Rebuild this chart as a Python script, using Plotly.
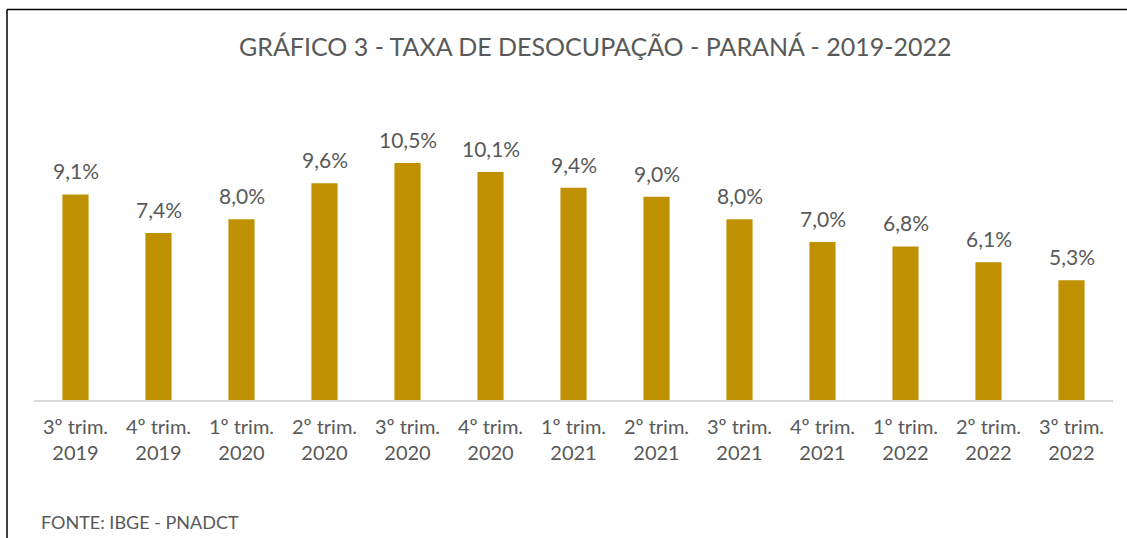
import plotly.graph_objects as go

categories = ["3º trim.<br>2019", "4º trim.<br>2019", "1º trim.<br>2020", "2º trim.<br>2020",
              "3º trim.<br>2020", "4º trim.<br>2020", "1º trim.<br>2021", "2º trim.<br>2021",
              "3º trim.<br>2021", "4º trim.<br>2021", "1º trim.<br>2022", "2º trim.<br>2022",
              "3º trim.<br>2022"]
values = [9.1, 7.4, 8.0, 9.6, 10.5, 10.1, 9.4, 9.0, 8.0, 7.0, 6.8, 6.1, 5.3]
labels = [f"{v:.1f}%".replace(".", ",") for v in values]

FONT = "Lato"
GREY = "#595959"
W, H = 1127, 538
L, R, T, B = 34, 14, 129, 138
pw = W - L - R
ph = H - T - B

def px_to_paper_x(px):
    return (px - L) / pw

def px_to_paper_y(py):
    return (H - B - py) / ph

fig = go.Figure()
fig.add_trace(go.Bar(x=categories, y=values, marker=dict(color="#BF9000", line=dict(width=0)),
                     hoverinfo="skip"))

for c, v, t in zip(categories, values, labels):
    fig.add_annotation(x=c, y=v, text=t, showarrow=False, yanchor="bottom", yshift=9,
                       font=dict(family=FONT, size=21, color=GREY))

fig.add_annotation(xref="paper", yref="paper", x=px_to_paper_x(595), y=px_to_paper_y(46),
                   text="GRÁFICO 3 - TAXA DE DESOCUPAÇÃO - PARANÁ - 2019-2022", showarrow=False,
                   xanchor="center", yanchor="middle", font=dict(family=FONT, size=25, color=GREY))
fig.add_annotation(xref="paper", yref="paper", x=px_to_paper_x(39), y=px_to_paper_y(522),
                   text="FONTE: IBGE - PNADCT", showarrow=False,
                   xanchor="left", yanchor="middle", font=dict(family=FONT, size=18, color=GREY))

# chart border (left and top visible)
fig.add_shape(type="line", xref="paper", yref="paper", x0=px_to_paper_x(7), x1=px_to_paper_x(7),
              y0=px_to_paper_y(9.5), y1=px_to_paper_y(545), line=dict(color="#000000", width=1.5))
fig.add_shape(type="line", xref="paper", yref="paper", x0=px_to_paper_x(7), x1=px_to_paper_x(1135),
              y0=px_to_paper_y(9.5), y1=px_to_paper_y(9.5), line=dict(color="#000000", width=1.5))

fig.update_layout(
    width=W, height=H, margin=dict(l=L, r=R, t=T, b=B, autoexpand=False),
    paper_bgcolor="white", plot_bgcolor="white", bargap=0.685, showlegend=False,
    font=dict(family=FONT, color=GREY),
)
fig.update_xaxes(showline=True, linecolor="#D9D9D9", linewidth=1.5, ticks="", showgrid=False,
                 tickfont=dict(family=FONT, size=20, color=GREY), ticklabelstandoff=8)
fig.update_yaxes(range=[0, 12], visible=False, showgrid=False, zeroline=False)

fig.write_html("out.html", config={"displayModeBar": False},
               post_script="document.body.style.margin='0';document.body.style.overflow='hidden';")
